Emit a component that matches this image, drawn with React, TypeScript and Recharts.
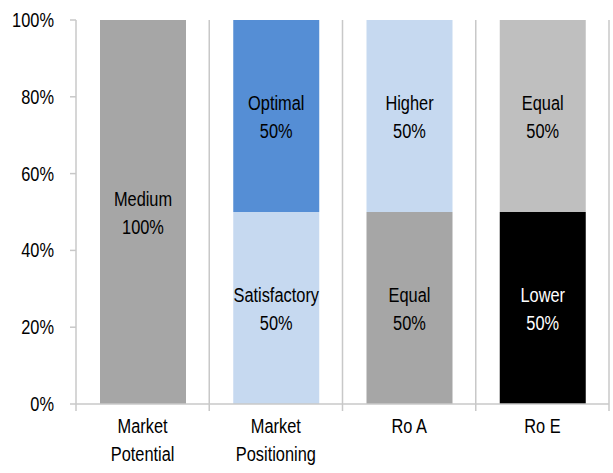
import React from 'react';
import { BarChart, Bar, XAxis, YAxis, CartesianGrid, LabelList, Cell } from 'recharts';

const FONT = "'Liberation Sans', Arial, sans-serif";
const SQUEEZE = 0.78; // Liberation Sans squeezed to a condensed face
const FONT_SIZE = 21;
const GRID = '#c8c8c8';

// categories (\n = line break in the axis label)
const categories = ['Market\nPotential', 'Market\nPositioning', 'Ro A', 'Ro E'];

// lower segment of each stack
const bottomValues = [100, 50, 50, 50];
const bottomNames = ['Medium', 'Satisfactory', 'Equal', 'Lower'];
const bottomColors = ['#a6a6a6', '#c6d9f0', '#a6a6a6', '#000000'];
const bottomText = ['#000', '#000', '#000', '#fff'];

// upper segment of each stack
const topValues = [0, 50, 50, 50];
const topNames = ['', 'Optimal', 'Higher', 'Equal'];
const topColors = ['#a6a6a6', '#558ed5', '#c6d9f0', '#bfbfbf'];
const topText = ['#000', '#000', '#000', '#000'];

const yTicks = [0, 20, 40, 60, 80, 100];

const data = categories.map((category, i) => ({
  category,
  idx: i,
  bottom: bottomValues[i],
  top: topValues[i],
}));

const NarrowText = ({ x, y, anchor = 'middle', fill = '#000', children }: any) => (
  <text
    transform={`translate(${x},${y}) scale(${SQUEEZE},1)`}
    x={0}
    y={0}
    textAnchor={anchor}
    fill={fill}
    fontSize={FONT_SIZE}
    fontFamily={FONT}
  >
    {children}
  </text>
);

const segmentLabel = (names: string[], values: number[], colors: string[]) => (props: any) => {
  const { x, y, width, height, value } = props;
  const i = Number(value);
  if (!values[i]) return null;
  const cx = Number(x) + Number(width) / 2;
  const cy = Number(y) + Number(height) / 2;
  return (
    <g>
      <NarrowText x={cx} y={cy - 6} fill={colors[i]}>{names[i]}</NarrowText>
      <NarrowText x={cx} y={cy + 22} fill={colors[i]}>{values[i]}%</NarrowText>
    </g>
  );
};

const CategoryTick = (props: any) => {
  const { x, y, payload, index, width } = props;
  const band = (Number(width) || 533) / categories.length;
  const lines = String(payload.value).split('\n');
  const left = x - band / 2;
  const right = x + band / 2;
  return (
    <g>
      <line x1={left} x2={left} y1={y} y2={y + 7} stroke={GRID} strokeWidth={1.5} />
      {index === categories.length - 1 && (
        <line x1={right} x2={right} y1={y} y2={y + 7} stroke={GRID} strokeWidth={1.5} />
      )}
      {lines.map((l, i) => (
        <NarrowText key={i} x={x} y={y + 29 + i * 28}>{l}</NarrowText>
      ))}
    </g>
  );
};

const PercentTick = (props: any) => {
  const { x, y, payload } = props;
  return (
    <NarrowText x={x} y={y + 7} anchor="end">{`${payload.value}%`}</NarrowText>
  );
};

export default function App() {
  return (
    <div style={{ position: 'absolute', left: 0, top: 0, background: '#fff' }}>
      <BarChart
        width={613}
        height={473}
        data={data}
        margin={{ top: 20, right: 4, bottom: 0, left: 0 }}
        barSize={86}
      >
        <CartesianGrid
          horizontal={false}
          stroke={GRID}
          strokeWidth={1.5}
          verticalCoordinatesGenerator={({ offset }: any) =>
            categories.map((_, i) => offset.left + (offset.width * (i + 1)) / categories.length)
          }
        />
        <XAxis
          dataKey="category"
          interval={0}
          height={69}
          tickSize={0}
          tickMargin={0}
          tickLine={false}
          axisLine={{ stroke: GRID, strokeWidth: 1.5 }}
          tick={<CategoryTick />}
        />
        <YAxis
          width={76}
          domain={[0, 100]}
          ticks={yTicks}
          tickSize={6}
          tickMargin={16}
          axisLine={{ stroke: GRID, strokeWidth: 1.5 }}
          tickLine={{ stroke: GRID, strokeWidth: 1.5 }}
          tick={<PercentTick />}
        />
        <Bar dataKey="bottom" stackId="a" isAnimationActive={false}>
          {data.map((_, i) => (
            <Cell key={i} fill={bottomColors[i]} />
          ))}
          <LabelList dataKey="idx" content={segmentLabel(bottomNames, bottomValues, bottomText)} />
        </Bar>
        <Bar dataKey="top" stackId="a" isAnimationActive={false}>
          {data.map((_, i) => (
            <Cell key={i} fill={topColors[i]} />
          ))}
          <LabelList dataKey="idx" content={segmentLabel(topNames, topValues, topText)} />
        </Bar>
      </BarChart>
    </div>
  );
}
